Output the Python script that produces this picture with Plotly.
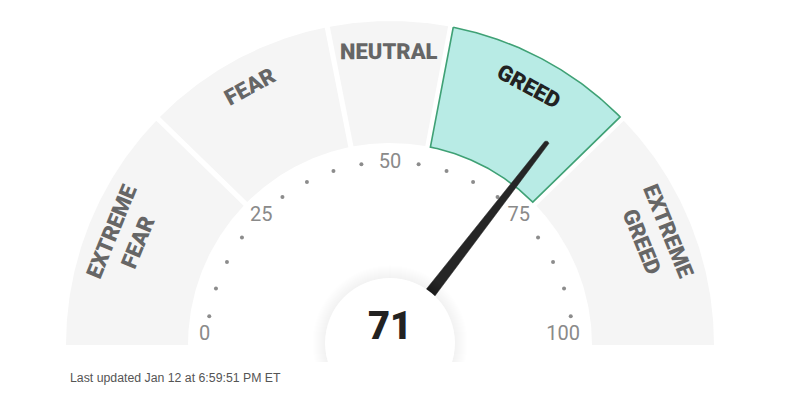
import numpy as np
import plotly.graph_objects as go

# ---------------- data ----------------
zone_names = ["EXTREME<br>FEAR", "FEAR", "NEUTRAL", "GREED", "EXTREME<br>GREED"]
zone_bounds = [0, 24.6, 43.8, 56, 75.4, 100]
active_zone = "GREED"
current_value = 71
tick_values = [0, 25, 50, 75, 100]
tick_labels = ["0", "25", "50", "75", "100"]
dot_values = [5, 10, 15, 20, 30, 35, 40, 45, 55, 60, 65, 70, 80, 85, 90, 95]
updated_text = "Last updated Jan 12 at 6:59:51 PM ET"

# ---------------- layout constants ----------------
W, H = 803, 395
CX, CY = 390, 345
R_OUT, R_IN = 324, 202
GAP = 2.6
GREY = "#f5f5f5"
ACTIVE_FILL = "#b8ebe5"
ACTIVE_LINE = "#3fa175"
LABEL_FONT = "Roboto, Arial, sans-serif"


def ang(v):
    return np.pi * (1 - v / 100.0)


def pt(v, r):
    t = ang(v)
    return CX + r * np.cos(t), CY - r * np.sin(t)


def off(v, r):
    return 0.0 if v in (0, 100) else np.arcsin(GAP / r)


fig = go.Figure()

# zones
for i, name in enumerate(zone_names):
    v0, v1 = zone_bounds[i], zone_bounds[i + 1]
    t_hi, t_lo = ang(v0), ang(v1)
    a = np.linspace(t_hi - off(v0, R_OUT), t_lo + off(v1, R_OUT), 90)
    b = np.linspace(t_lo + off(v1, R_IN), t_hi - off(v0, R_IN), 70)
    xs = list(CX + R_OUT * np.cos(a)) + list(CX + R_IN * np.cos(b))
    ys = list(CY - R_OUT * np.sin(a)) + list(CY - R_IN * np.sin(b))
    xs.append(xs[0])
    ys.append(ys[0])
    active = name == active_zone
    fig.add_trace(go.Scatter(
        x=xs, y=ys, mode="lines", fill="toself",
        fillcolor=ACTIVE_FILL if active else GREY,
        line=dict(color=ACTIVE_LINE if active else GREY, width=1.6 if active else 0),
        hoverinfo="skip", showlegend=False))

# dots
dx, dy = zip(*[pt(v, 183) for v in dot_values])
fig.add_trace(go.Scatter(x=dx, y=dy, mode="markers",
                         marker=dict(size=4, color="#8c8c8c"),
                         hoverinfo="skip", showlegend=False))

# tick labels
tx, ty, tpos = [], [], []
for v in tick_values:
    if v == 0:
        x, _ = pt(v, 191)
        tx.append(x); ty.append(CY - 10); tpos.append("middle right")
    elif v == 100:
        x, _ = pt(v, 190)
        tx.append(x); ty.append(CY - 10); tpos.append("middle left")
    else:
        x, y = pt(v, 182)
        tx.append(x); ty.append(y); tpos.append("middle center")
fig.add_trace(go.Scatter(x=tx, y=ty, mode="text", text=tick_labels,
                         textposition=tpos,
                         textfont=dict(family="Roboto, Arial, sans-serif", size=20, color="#8a8a8a"),
                         hoverinfo="skip", showlegend=False))

# needle
t = ang(current_value)
u = np.array([np.cos(t), -np.sin(t)])
n = np.array([np.sin(t), np.cos(t)])
C = np.array([CX, CY])
L, w0, w1 = 255, 6.6, 2.5
T = C + u * L
pts = [C + n * w0]
for phi in np.linspace(0, np.pi, 16):
    pts.append(T + w1 * (n * np.cos(phi) + u * np.sin(phi)))
pts.append(C - n * w0)
pts.append(pts[0])
fig.add_trace(go.Scatter(x=[p[0] for p in pts], y=[p[1] for p in pts], mode="lines",
                         fill="toself", fillcolor="#262626", line=dict(color="#262626", width=0.5),
                         hoverinfo="skip", showlegend=False))

# centre disc with soft shadow
shapes = []
CCY = 343
for r in range(78, 65, -1):
    shapes.append(dict(type="circle", xref="x", yref="y", x0=CX - r, x1=CX + r,
                       y0=CCY - r, y1=CCY + r, fillcolor="rgba(0,0,0,0.005)",
                       line=dict(width=0), layer="above"))
shapes.append(dict(type="circle", xref="x", yref="y", x0=CX - 65, x1=CX + 65,
                   y0=CCY - 65, y1=CCY + 65, fillcolor="white",
                   line=dict(width=0), layer="above"))
shapes.append(dict(type="rect", xref="x", yref="y", x0=0, x1=W, y0=362, y1=H,
                   fillcolor="white", line=dict(width=0), layer="above"))

annotations = []
for i, name in enumerate(zone_names):
    v0, v1 = zone_bounds[i], zone_bounds[i + 1]
    vm = (v0 + v1) / 2
    r = 286 if "<br>" in name else 294
    x, y = pt(vm, r)
    annotations.append(dict(x=x, y=y, xref="x", yref="y", text=name, showarrow=False,
                            textangle=1.8 * vm - 90, xanchor="center", yanchor="middle",
                            font=dict(family=LABEL_FONT, size=22, weight=900,
                                      color="#222222" if name == active_zone else "#666666")))
annotations.append(dict(x=CX, y=326, xref="x", yref="y", text=str(current_value), showarrow=False,
                        xanchor="center", yanchor="middle",
                        font=dict(family=LABEL_FONT, size=38, weight=900, color="#222222")))
annotations.append(dict(x=68, y=378, xref="x", yref="y", text=updated_text, showarrow=False,
                        xanchor="left", yanchor="middle",
                        font=dict(family="Liberation Sans, Arial, sans-serif", size=12.3, color="#555555")))

fig.update_layout(
    width=W, height=H, margin=dict(l=0, r=0, t=0, b=0),
    paper_bgcolor="white", plot_bgcolor="white", showlegend=False,
    xaxis=dict(range=[0, W], visible=False, fixedrange=True),
    yaxis=dict(range=[H, 0], visible=False, fixedrange=True),
    shapes=shapes, annotations=annotations,
)
fig.write_html("out.html")
